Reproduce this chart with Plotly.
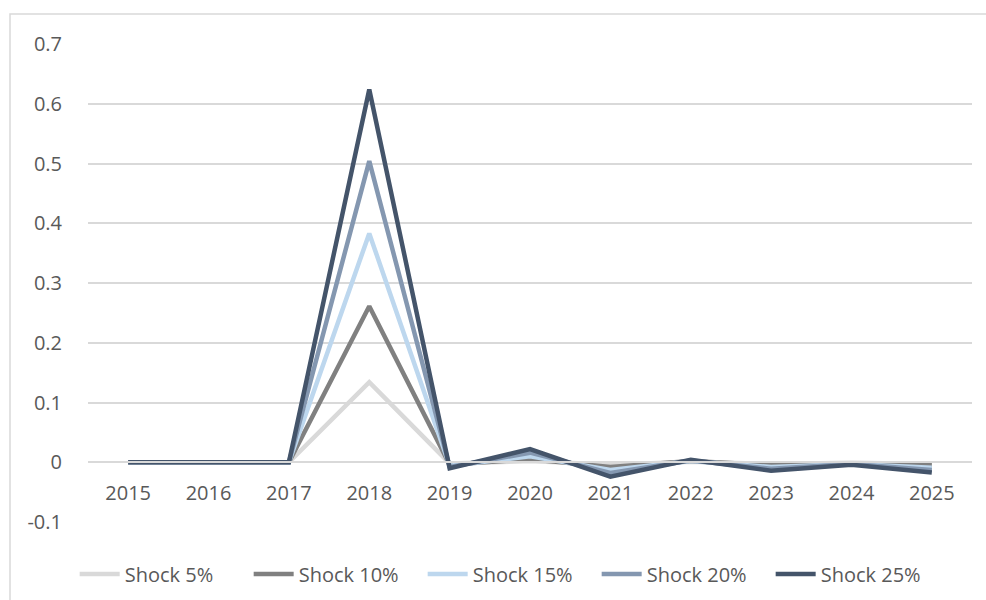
import plotly.graph_objects as go

years = ["2015", "2016", "2017", "2018", "2019", "2020", "2021", "2022", "2023", "2024", "2025"]
shock_5 = [0, 0, 0, 0.134, -0.002, 0.002, -0.004, 0.001, -0.003, -0.001, -0.003]
shock_10 = [0, 0, 0, 0.261, -0.004, 0.005, -0.008, 0.002, -0.005, -0.002, -0.005]
shock_15 = [0, 0, 0, 0.383, -0.006, 0.010, -0.013, 0.002, -0.008, -0.003, -0.009]
shock_20 = [0, 0, 0, 0.504, -0.008, 0.016, -0.018, 0.003, -0.011, -0.003, -0.013]
shock_25 = [0, 0, 0, 0.624, -0.010, 0.022, -0.024, 0.004, -0.014, -0.004, -0.017]

series_names = ["Shock 5%", "Shock 10%", "Shock 15%", "Shock 20%", "Shock 25%"]
series_values = [shock_5, shock_10, shock_15, shock_20, shock_25]
colors = ["#d9d9d9", "#808080", "#bdd7ee", "#8497b0", "#44546a"]

y_ticks = [-0.1, 0, 0.1, 0.2, 0.3, 0.4, 0.5, 0.6, 0.7]
y_tick_text = ["-0.1", "0", "0.1", "0.2", "0.3", "0.4", "0.5", "0.6", "0.7"]

FONT = "Open Sans, Liberation Sans, sans-serif"

fig = go.Figure()
for name, vals, col in zip(series_names, series_values, colors):
    fig.add_trace(go.Scatter(
        x=years, y=vals, name=name, mode="lines",
        line=dict(color=col, width=4.5),
    ))

fig.update_layout(
    width=986, height=600,
    margin=dict(l=88, r=14, t=44, b=78),
    paper_bgcolor="white", plot_bgcolor="white",
    font=dict(family=FONT, size=20, color="#595959"),
    showlegend=True,
    legend=dict(
        orientation="h", x=0.477, xanchor="center",
        yref="container", y=1 - 574 / 600, yanchor="middle",
        font=dict(family=FONT, size=20, color="#595959"),
        itemwidth=40, traceorder="normal", entrywidth=119,
    ),
    xaxis=dict(
        type="category", range=[-0.5, 10.5],
        anchor="free", position=0.125, automargin=False,
        showgrid=False, showline=True, linecolor="#d9d9d9", linewidth=1.5,
        ticks="", ticklabelstandoff=13, zeroline=False,
    ),
    yaxis=dict(
        range=[-0.1, 0.7], tickvals=y_ticks, ticktext=y_tick_text, automargin=False,
        showgrid=True, gridcolor="#d9d9d9", gridwidth=1.5,
        zeroline=False, showline=False, ticks="", ticklabelstandoff=25,
    ),
    shapes=[dict(
        type="rect", xref="paper", yref="paper",
        x0=(10 - 88) / 884, x1=(1000 - 88) / 884,
        y0=(78 - 620) / 478, y1=(522 - 14) / 478,
        line=dict(color="#d9d9d9", width=1.5), fillcolor="rgba(0,0,0,0)",
        layer="below",
    )],
)

fig.write_html("out.html", config={"displayModeBar": False},
               post_script="document.body.style.margin='0';")
